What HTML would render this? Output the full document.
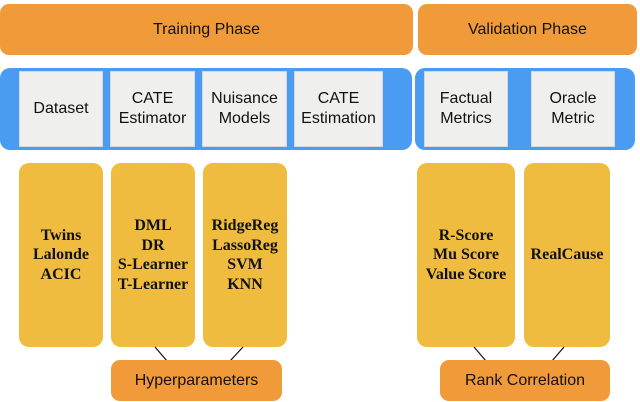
<!DOCTYPE html><html><head><style>
body{margin:0;width:640px;height:402px;background:#fff;position:relative;font-family:"Liberation Sans",sans-serif;overflow:hidden}
.a{position:absolute;box-sizing:border-box}
.or{background:#f09a3a;border-radius:9px;display:flex;align-items:center;justify-content:center;font-size:16px;color:#111}
.bl{background:#4a9cf2;border-radius:10px}
.gr{background:#efefed;border:1px solid #d8d8d8;display:flex;align-items:center;justify-content:center;text-align:center;font-size:16px;line-height:20px;color:#111}
.ye{background:#f0bc40;border-radius:10px;display:flex;align-items:center;justify-content:center;text-align:center;font-family:"Liberation Serif",serif;font-weight:bold;font-size:16px;line-height:19.5px;color:#111}
</style></head><body>
<div class="a or" style="left:0;top:4px;width:413px;height:51px">Training Phase</div>
<div class="a or" style="left:418px;top:4px;width:219px;height:51px">Validation Phase</div>
<div class="a bl" style="left:0;top:68px;width:412px;height:82px"></div>
<div class="a bl" style="left:415px;top:68px;width:220px;height:82px"></div>
<div class="a gr" style="left:19px;top:71px;width:84px;height:76px">Dataset</div>
<div class="a gr" style="left:110px;top:71px;width:85px;height:76px">CATE<br>Estimator</div>
<div class="a gr" style="left:202px;top:71px;width:85px;height:76px">Nuisance<br>Models</div>
<div class="a gr" style="left:294px;top:71px;width:89px;height:76px">CATE<br>Estimation</div>
<div class="a gr" style="left:424px;top:71px;width:84px;height:76px">Factual<br>Metrics</div>
<div class="a gr" style="left:531px;top:71px;width:84px;height:76px">Oracle<br>Metric</div>
<div class="a ye" style="left:19px;top:163px;width:84px;height:184px">Twins<br>Lalonde<br>ACIC</div>
<div class="a ye" style="left:111px;top:163px;width:84px;height:184px">DML<br>DR<br>S-Learner<br>T-Learner</div>
<div class="a ye" style="left:203px;top:163px;width:84px;height:184px">RidgeReg<br>LassoReg<br>SVM<br>KNN</div>
<div class="a ye" style="left:417px;top:163px;width:98px;height:184px">R-Score<br>Mu Score<br>Value Score</div>
<div class="a ye" style="left:524px;top:163px;width:86px;height:184px">RealCause</div>
<svg class="a" style="left:0;top:0" width="640" height="402"><g stroke="#111" stroke-width="1.2">
<line x1="155" y1="347" x2="167" y2="361"/><line x1="243" y1="347" x2="230" y2="361"/>
<line x1="474" y1="347" x2="486" y2="361"/><line x1="564" y1="347" x2="552" y2="361"/></g></svg>
<div class="a or" style="left:111px;top:360px;width:171px;height:41px">Hyperparameters</div>
<div class="a or" style="left:440px;top:360px;width:170px;height:41px">Rank Correlation</div>
</body></html>
